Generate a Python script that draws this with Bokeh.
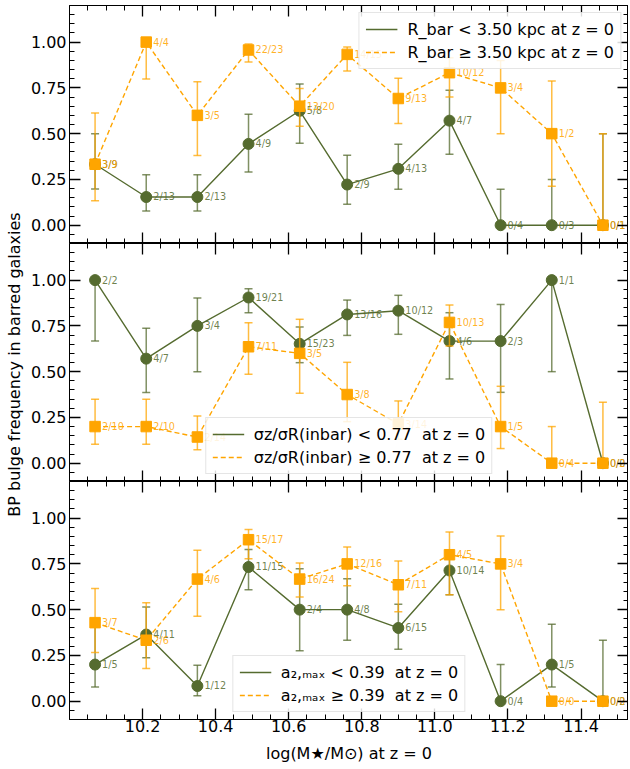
import numpy as np
from bokeh.plotting import figure
from bokeh.models import (FixedTicker, NumeralTickFormatter, LinearAxis, Range1d,
                          Legend, LegendItem, ColumnDataSource, Label)
from bokeh.layouts import column, row
from bokeh.embed import file_html
from bokeh.resources import INLINE
from bokeh.core.properties import value

# ---------------- data ----------------
logm = [10.07, 10.21, 10.35, 10.49, 10.63, 10.76, 10.90, 11.04, 11.18, 11.32, 11.46]

x_major = [10.2, 10.4, 10.6, 10.8, 11.0, 11.2, 11.4]
x_minor = [10.05, 10.1, 10.15, 10.25, 10.3, 10.35, 10.45, 10.5, 10.55, 10.65, 10.7, 10.75,
           10.85, 10.9, 10.95, 11.05, 11.1, 11.15, 11.25, 11.3, 11.35, 11.45, 11.5]
y_major = [0.0, 0.25, 0.5, 0.75, 1.0]
y_minor = [-0.05, 0.05, 0.1, 0.15, 0.2, 0.3, 0.35, 0.4, 0.45, 0.55, 0.6, 0.65, 0.7,
           0.8, 0.85, 0.9, 0.95, 1.05, 1.1, 1.15]

# Panel 1: R_bar
rbar_lo_frac = [0.333, 0.154, 0.154, 0.444, 0.625, 0.222, 0.308, 0.571, 0.0, 0.0, 0.0]
rbar_lo_up = [0.50, 0.276, 0.276, 0.606, 0.771, 0.382, 0.442, 0.737, 0.196, 0.249, 0.50]
rbar_lo_dn = [0.198, 0.078, 0.078, 0.291, 0.447, 0.115, 0.196, 0.387, 0.0, 0.0, 0.0]
rbar_lo_lab = ["3/9", "2/13", "2/13", "4/9", "5/8", "2/9", "4/13", "4/7", "0/4", "0/3", "0/1"]
rbar_hi_frac = [0.333, 1.0, 0.6, 0.957, 0.65, 0.933, 0.692, 0.833, 0.75, 0.5, 0.0]
rbar_hi_up = [0.613, 1.0, 0.784, 0.99, 0.746, 0.973, 0.802, 0.915, 0.90, 0.787, 0.50]
rbar_hi_dn = [0.133, 0.798, 0.380, 0.891, 0.54, 0.842, 0.555, 0.70, 0.50, 0.213, 0.0]
rbar_hi_lab = ["3/9", "4/4", "3/5", "22/23", "13/20", "14/15", "9/13", "10/12", "3/4", "1/2", "0/1"]

# Panel 2: sigma_z / sigma_R (inbar)
sig_lo_frac = [1.0, 0.571, 0.75, 0.905, 0.652, 0.8125, 0.833, 0.667, 0.667, 1.0, 0.0]
sig_lo_up = [1.0, 0.737, 0.902, 0.953, 0.744, 0.891, 0.917, 0.822, 0.867, 1.0, 0.0]
sig_lo_dn = [0.667, 0.386, 0.50, 0.822, 0.549, 0.698, 0.704, 0.46, 0.387, 0.50, 0.0]
sig_lo_lab = ["2/2", "4/7", "3/4", "19/21", "15/23", "13/16", "10/12", "4/6", "2/3", "1/1", "0/0"]
sig_hi_frac = [0.2, 0.2, 0.143, 0.636, 0.6, 0.375, 0.214, 0.769, 0.2, 0.0, 0.0]
sig_hi_up = [0.349, 0.349, 0.258, 0.767, 0.786, 0.551, 0.34, 0.864, 0.42, 0.2, 0.333]
sig_hi_dn = [0.104, 0.104, 0.073, 0.486, 0.382, 0.227, 0.131, 0.64, 0.08, 0.0, 0.0]
sig_hi_lab = ["2/10", "2/10", "2/14", "7/11", "3/5", "3/8", "3/14", "10/13", "1/5", "0/4", "0/2"]

# Panel 3: a2,max
a2_lo_frac = [0.2, 0.364, 0.083, 0.733, 0.5, 0.5, 0.4, 0.714, 0.0, 0.2, 0.0]
a2_lo_up = [0.42, 0.515, 0.196, 0.829, 0.724, 0.669, 0.529, 0.818, 0.2, 0.42, 0.333]
a2_lo_dn = [0.078, 0.237, 0.03, 0.609, 0.275, 0.333, 0.284, 0.582, 0.0, 0.078, 0.0]
a2_lo_lab = ["1/5", "4/11", "1/12", "11/15", "2/4", "4/8", "6/15", "10/14", "0/4", "1/5", "0/2"]
a2_hi_frac = [0.429, 0.333, 0.667, 0.882, 0.667, 0.75, 0.636, 0.8, 0.75, 0.0, 0.0]
a2_hi_up = [0.615, 0.538, 0.824, 0.938, 0.755, 0.842, 0.766, 0.924, 0.902, 0.0, 0.0]
a2_hi_dn = [0.266, 0.178, 0.464, 0.778, 0.569, 0.63, 0.488, 0.582, 0.50, 0.0, 0.0]
a2_hi_lab = ["3/7", "2/6", "4/6", "15/17", "16/24", "12/16", "7/11", "4/5", "3/4", "0/0", "0/0"]

legend_rbar = ["R_bar < 3.50 kpc at z = 0", "R_bar ≥ 3.50 kpc at z = 0"]
legend_sig = ["σz/σR(inbar) < 0.77  at z = 0", "σz/σR(inbar) ≥ 0.77  at z = 0"]
legend_a2 = ["a₂,ₘₐₓ < 0.39  at z = 0", "a₂,ₘₐₓ ≥ 0.39  at z = 0"]

x_label = "log(M★/M⊙) at z = 0"
y_label = "BP bulge frequency in barred galaxies"

# ---------------- style ----------------
GREEN = "#556B2F"
ORANGE = "#FFA500"
FONT = "DejaVu Sans"
FRAME_W = 559
FRAME_H = 238
LEFT_W = 25
BORDER_L = 44
TOP_B = 5
BOTTOM_B = 46


def style_axis(ax, show_labels):
    ax.major_tick_in = 11
    ax.major_tick_out = 0
    ax.minor_tick_in = 5
    ax.minor_tick_out = 0
    ax.axis_line_color = "black"
    ax.axis_line_width = 1
    ax.major_tick_line_color = "black"
    ax.minor_tick_line_color = "black"
    ax.major_tick_line_width = 1.3
    ax.minor_tick_line_width = 1.0
    ax.major_label_text_font = FONT
    if show_labels:
        ax.major_label_text_font_size = "16px"
        ax.major_label_text_color = "black"
    else:
        ax.major_label_text_font_size = "0px"
        ax.major_label_text_color = None
        ax.major_label_standoff = 0
    ax.axis_label_text_font = FONT
    ax.axis_label_text_font_size = "16px"
    ax.axis_label_text_font_style = "normal"
    ax.axis_label_text_color = "black"


def draw_series(p, frac, up, dn, lab, color, dash, marker, msize):
    src = ColumnDataSource(dict(x=logm, y=frac, up=up, dn=dn, lab=lab))
    p.segment(x0="x", y0="dn", x1="x", y1="up", source=src, line_color=color,
              line_width=1.5, line_alpha=0.75)
    p.scatter("x", "up", source=src, marker="dash", size=8, line_color=color,
              line_width=1.5, line_alpha=0.75)
    p.scatter("x", "dn", source=src, marker="dash", size=8, line_color=color,
              line_width=1.5, line_alpha=0.75)
    ln = p.line("x", "y", source=src, line_color=color, line_width=1.4, line_dash=dash)
    p.scatter("x", "y", source=src, marker=marker, size=msize, fill_color=color,
              line_color=color, line_width=1)
    p.text("x", "y", text="lab", source=src, x_offset=7, y_offset=0,
           text_font=value(FONT), text_font_size="9.7px", text_color=color,
           text_alpha=0.85, text_baseline="alphabetic", text_align="left")
    cross = p.scatter([], [], marker="cross", size=9, line_color=color, line_width=1.5,
                      line_alpha=0.8)
    return [ln, cross]


def make_panel(lo, hi, legend_texts, legend_loc, show_x, top_border, bottom_border):
    p = figure(frame_width=FRAME_W, frame_height=FRAME_H,
               x_range=Range1d(10.0, 11.53), y_range=Range1d(-0.1, 1.2),
               output_backend="svg", toolbar_location=None,
               x_axis_location=None, y_axis_location=None,
               min_border_left=BORDER_L, min_border_right=0, min_border_top=top_border,
               min_border_bottom=bottom_border)
    p.xgrid.visible = False
    p.ygrid.visible = False
    p.outline_line_color = "black"
    p.outline_line_width = 1
    p.background_fill_color = "white"

    for place in ["below", "above"]:
        ax = LinearAxis(ticker=FixedTicker(ticks=x_major, minor_ticks=x_minor),
                        formatter=NumeralTickFormatter(format="0.0"))
        style_axis(ax, show_x and place == "below")
        if show_x and place == "below":
            ax.axis_label = x_label
            ax.major_label_standoff = 0
            ax.axis_label_standoff = 9
        p.add_layout(ax, place)
    for place in ["left", "right"]:
        ax = LinearAxis(ticker=FixedTicker(ticks=y_major, minor_ticks=y_minor),
                        formatter=NumeralTickFormatter(format="0.00"))
        style_axis(ax, place == "left")
        if place == "left":
            ax.major_label_standoff = 3
        p.add_layout(ax, place)

    r_lo = draw_series(p, lo[0], lo[1], lo[2], lo[3], GREEN, "solid", "circle", 11)
    r_hi = draw_series(p, hi[0], hi[1], hi[2], hi[3], ORANGE, "5 3", "square", 10.5)

    legend = Legend(items=[LegendItem(label=legend_texts[0], renderers=r_lo),
                           LegendItem(label=legend_texts[1], renderers=r_hi)],
                    location=legend_loc)
    legend.label_text_font = FONT
    legend.label_text_font_size = "16px"
    legend.label_text_color = "black"
    legend.glyph_width = 32
    legend.glyph_height = 20
    legend.label_standoff = 10
    legend.padding = 6
    legend.spacing = 3
    legend.margin = 7
    legend.border_line_color = "#cccccc"
    legend.border_line_width = 1
    legend.background_fill_color = "white"
    legend.background_fill_alpha = 0.85
    p.add_layout(legend)
    return p


p1 = make_panel((rbar_lo_frac, rbar_lo_up, rbar_lo_dn, rbar_lo_lab),
                (rbar_hi_frac, rbar_hi_up, rbar_hi_dn, rbar_hi_lab),
                legend_rbar, "top_right", False, TOP_B, 0)
p2 = make_panel((sig_lo_frac, sig_lo_up, sig_lo_dn, sig_lo_lab),
                (sig_hi_frac, sig_hi_up, sig_hi_dn, sig_hi_lab),
                legend_sig, "bottom_center", False, 0, 0)
p3 = make_panel((a2_lo_frac, a2_lo_up, a2_lo_dn, a2_lo_lab),
                (a2_hi_frac, a2_hi_up, a2_hi_dn, a2_hi_lab),
                legend_a2, "bottom_center", True, 0, BOTTOM_B)

# narrow figure holding the shared y-axis label
total_h = TOP_B + 3 * FRAME_H + BOTTOM_B
pl = figure(width=LEFT_W, height=total_h, x_range=Range1d(0, 1), y_range=Range1d(0, 1),
            output_backend="svg", toolbar_location=None,
            x_axis_location=None, y_axis_location=None,
            min_border_left=0, min_border_right=0, min_border_top=0, min_border_bottom=0)
pl.outline_line_color = None
pl.xgrid.visible = False
pl.ygrid.visible = False
pl.add_layout(Label(x=14, y=total_h - 364, x_units="screen",
                    y_units="screen", text=y_label, angle=np.pi / 2,
                    text_align="center", text_baseline="middle",
                    text_font=FONT, text_font_size="16px", text_color="black"))

layout = row(pl, column(p1, p2, p3, spacing=0), spacing=0)
open("out.html", "w").write(file_html(layout, INLINE))
